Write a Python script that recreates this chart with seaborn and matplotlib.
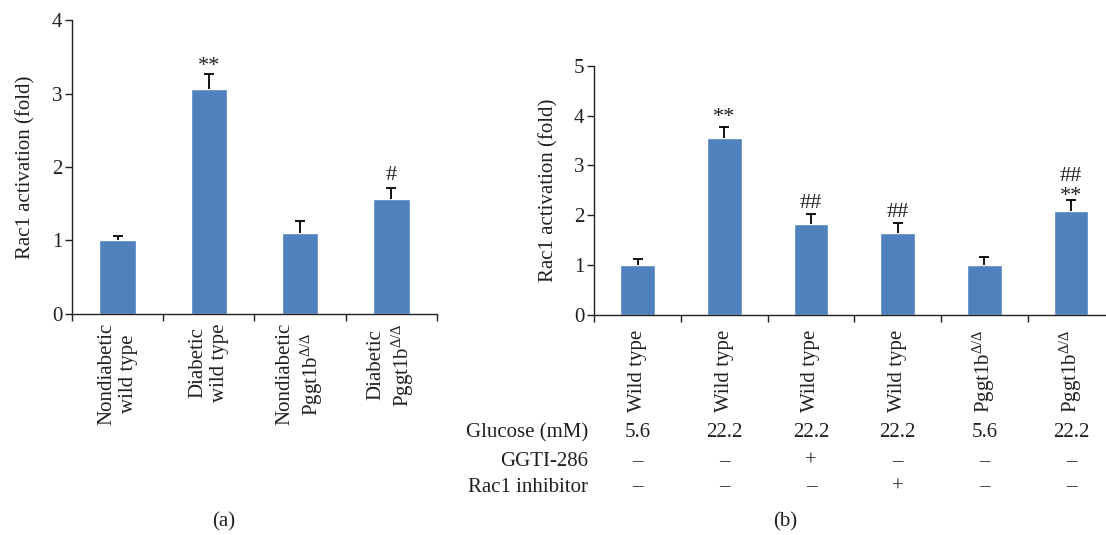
import numpy as np
import pandas as pd
import matplotlib.pyplot as plt
import seaborn as sns

# Panel (a) data
groups_a = ["Nondiabetic\nwild type", "Diabetic\nwild type",
            "Nondiabetic\nPggt1b$^{Δ/Δ}$", "Diabetic\nPggt1b$^{Δ/Δ}$"]
fold_a = [1.00, 3.06, 1.10, 1.57]
err_a = [0.06, 0.21, 0.17, 0.15]
marks_a = ["", "**", "", "#"]
mark_y_a = [None, 3.30, None, 1.82]

# Panel (b) data
groups_b = ["Wild type", "Wild type", "Wild type", "Wild type",
            "Pggt1b$^{Δ/Δ}$", "Pggt1b$^{Δ/Δ}$"]
fold_b = [1.00, 3.54, 1.82, 1.64, 1.00, 2.09]
err_b = [0.12, 0.23, 0.20, 0.20, 0.17, 0.21]
glucose = ["5.6", "22.2", "22.2", "22.2", "5.6", "22.2"]
ggti = ["–", "–", "+", "–", "–", "–"]
rac1_inh = ["–", "–", "–", "+", "–", "–"]
# annotations: (bar index, text, baseline y)
marks_b = [(1, "**", 3.87), (2, "##", 2.15), (3, "##", 1.97),
           (5, "**", 2.29), (5, "##", 2.69)]

BLUE = "#4F81BD"
INK = "#231F20"

sns.set_theme(style="ticks")
plt.rcParams["font.family"] = ["Liberation Serif", "DejaVu Serif"]
plt.rcParams["mathtext.fontset"] = "custom"
plt.rcParams["mathtext.rm"] = "Liberation Serif"
plt.rcParams["mathtext.it"] = "Liberation Serif:italic"
plt.rcParams["text.color"] = INK
plt.rcParams["axes.labelcolor"] = INK
plt.rcParams["xtick.color"] = INK
plt.rcParams["ytick.color"] = INK

FS = 15
FS_MARK = 16

fig = plt.figure(figsize=(11.06, 5.35), dpi=100)
ax_a = fig.add_axes([0.0651, 0.4131, 0.330, 0.5495])
ax_b = fig.add_axes([0.5373, 0.4112, 0.4702, 0.466])


def draw_panel(ax, fold, err, labels, ymax, pad):
    n = len(fold)
    df = pd.DataFrame({"g": [str(i) for i in range(n)], "fold": fold})
    sns.barplot(data=df, x="g", y="fold", color=BLUE, saturation=1,
                width=0.4, errorbar=None, ax=ax)
    eb = ax.errorbar(np.arange(n), fold, yerr=[np.zeros(n), err], fmt="none",
                     ecolor="black", elinewidth=1.3, capsize=3.5, capthick=1.3)
    # keep only the upper caps
    eb[1][0].set_visible(False)
    ax.set_xlim(-0.5, n - 0.5)
    ax.set_ylim(0, ymax)
    ax.set_yticks(range(ymax + 1))
    ax.set_xticks(range(n))
    ax.set_xticklabels(labels, rotation=90, fontsize=FS, ha="center",
                       va="top", multialignment="center")
    ax.set_xticks(np.arange(n + 1) - 0.5, minor=True)
    ax.tick_params(axis="x", which="major", length=0, pad=pad)
    ax.tick_params(axis="x", which="minor", length=5, width=1, direction="out")
    ax.tick_params(axis="y", length=5, width=1, direction="out", labelsize=FS,
                   pad=2)
    ax.set_xlabel("")
    ax.set_ylabel("Rac1 activation (fold)", fontsize=FS)
    sns.despine(ax=ax)
    for s in ["left", "bottom"]:
        ax.spines[s].set_color("#222222")
        ax.spines[s].set_linewidth(1.0)


draw_panel(ax_a, fold_a, err_a, groups_a, 4, 6.5)
draw_panel(ax_b, fold_b, err_b, groups_b, 5, 10.5)

ax_a.yaxis.set_label_coords(-0.099, 0.5)
ax_b.yaxis.set_label_coords(-0.068, 0.5)

for i, (m, y) in enumerate(zip(marks_a, mark_y_a)):
    if m:
        ax_a.text(i, y, m, ha="center", va="baseline", fontsize=FS_MARK)
for i, m, y in marks_b:
    ax_b.text(i, y, m, ha="center", va="baseline", fontsize=FS_MARK)

# treatment table under panel (b)
rows = [("Glucose (mM)", glucose, -0.473),
        ("GGTI-286", ggti, -0.586),
        ("Rac1 inhibitor", rac1_inh, -0.690)]
xt = ax_b.get_xaxis_transform()
for name, vals, yy in rows:
    ax_b.text(-0.012, yy, name, transform=ax_b.transAxes, ha="right",
              va="center", fontsize=FS)
    for i, v in enumerate(vals):
        ax_b.text(i, yy, v, transform=xt, ha="center", va="center",
                  fontsize=FS)

fig.text(224 / 1106, 1 - 522 / 535, "(a)", ha="center", va="center", fontsize=FS)
fig.text(785 / 1106, 1 - 522 / 535, "(b)", ha="center", va="center", fontsize=FS)

fig.savefig("out.png", dpi=100)
